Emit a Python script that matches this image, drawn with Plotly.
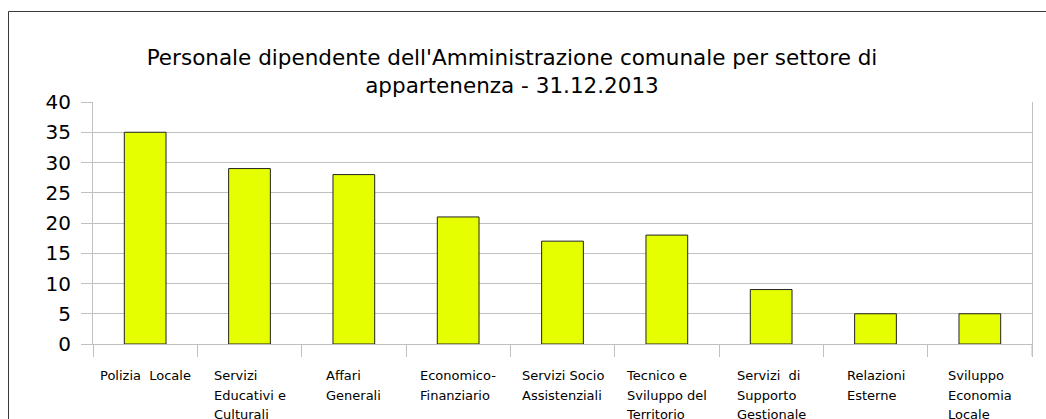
import plotly.graph_objects as go

# Personale per settore al 31.12.2013
settori = [
    "Polizia Locale",
    "Servizi Educativi e Culturali",
    "Affari Generali",
    "Economico-Finanziario",
    "Servizi Socio Assistenziali",
    "Tecnico e Sviluppo del Territorio",
    "Servizi di Supporto Gestionale",
    "Relazioni Esterne",
    "Sviluppo Economia Locale",
]
etichette = [
    ["Polizia  Locale"],
    ["Servizi", "Educativi e", "Culturali"],
    ["Affari", "Generali"],
    ["Economico-", "Finanziario"],
    ["Servizi Socio", "Assistenziali"],
    ["Tecnico e", "Sviluppo del", "Territorio"],
    ["Servizi  di", "Supporto", "Gestionale"],
    ["Relazioni", "Esterne"],
    ["Sviluppo", "Economia", "Locale"],
]
dipendenti = [35, 29, 28, 21, 17, 18, 9, 5, 5]
y_ticks = [0, 5, 10, 15, 20, 25, 30, 35, 40]

titolo = ("Personale dipendente dell'Amministrazione comunale per settore di<br>"
          "appartenenza - 31.12.2013")

W, H = 1046, 419
L, R, T, B = 93, 14, 102, 75
pw, ph = W - L - R, H - T - B

FONT = "DejaVu Sans"
GRID = "#c0c0c0"

fig = go.Figure(
    go.Bar(
        x=settori,
        y=dipendenti,
        marker=dict(color="#e6ff00", line=dict(color="#222222", width=1)),
        width=0.4,
        hoverinfo="x+y",
    )
)

# category labels: block centred under each category, lines left-aligned
annotations = []
for s, righe in zip(settori, etichette):
    txt = "<br>".join(f'<span style="font-size:13px">{r}</span>' for r in righe)
    annotations.append(dict(
        x=s, xref="x", y=(T + ph - 366) / ph,
        yref="paper", text=txt, showarrow=False, xanchor="center",
        yanchor="top", align="left",
        font=dict(family=FONT, size=15, color="#000000"),
    ))

fig.update_layout(
    width=W, height=H,
    margin=dict(l=L, r=R, t=T, b=B, pad=0),
    paper_bgcolor="white", plot_bgcolor="white",
    showlegend=False,
    title=dict(
        text=titolo, x=512 / W, xref="container",
        xanchor="center", y=1 - 65 / H, yanchor="top",
        font=dict(family=FONT, size=21.5, color="#000000"),
    ),
    xaxis=dict(
        type="category", showticklabels=False,
        ticks="outside", tickson="boundaries", ticklen=12,
        tickcolor=GRID, showgrid=False, showline=True, linecolor=GRID,
        linewidth=1, range=[-0.5, len(settori) - 0.5],
    ),
    yaxis=dict(
        range=[0, 40], tickvals=y_ticks, ticks="outside", ticklen=11,
        tickcolor=GRID, showgrid=True, gridcolor=GRID, gridwidth=1,
        showline=True, mirror=True, linecolor=GRID, linewidth=1,
        zeroline=False, ticklabelstandoff=6,
        tickfont=dict(family=FONT, size=20, color="#000000"),
    ),
    annotations=annotations,
    shapes=[
        # right boundary line extends down like the category ticks
        dict(type="line", xref="paper", yref="paper", x0=1, x1=1,
             y0=-12 / ph, y1=0, line=dict(color=GRID, width=1)),
        # outer chart frame
        dict(type="rect", xref="paper", yref="paper",
             x0=(8.5 - L) / pw, x1=1.2, y0=-1.0, y1=(T + ph - 11.5) / ph,
             line=dict(color="#3a3a3a", width=1), layer="above"),
    ],
)

fig.write_html("out.html")
